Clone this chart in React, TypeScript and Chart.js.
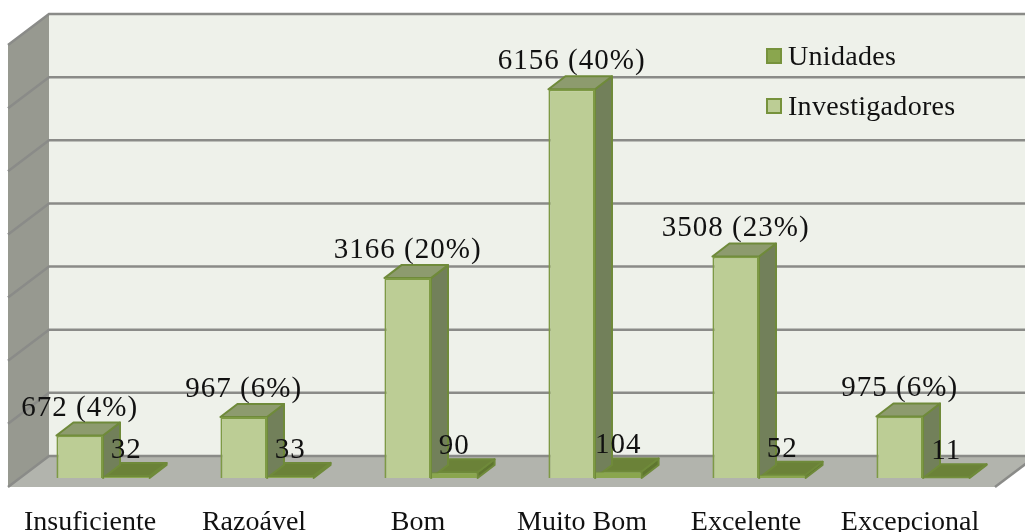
import React, { useEffect, useRef } from "react";
import { Chart, registerables } from "chart.js";

Chart.register(...registerables);

const categories = ["Insuficiente", "Razoável", "Bom", "Muito Bom", "Excelente", "Excepcional"];
const investigadores = [672, 967, 3166, 6156, 3508, 975];
const unidades = [32, 33, 90, 104, 52, 11];
const percentages = ["4%", "6%", "20%", "40%", "23%", "6%"];

const FONT = '"Liberation Serif", serif';
const WALL_DX = 41;
const BACK_DY = 22;
const FRONT_DY = 9;
const BAR_DX = 17;
const BAR_DY = 13;

function poly(ctx: any, pts: number[][], fill: string, stroke?: string, lw = 1.5) {
  ctx.beginPath();
  pts.forEach((p, i) => (i ? ctx.lineTo(p[0], p[1]) : ctx.moveTo(p[0], p[1])));
  ctx.closePath();
  ctx.fillStyle = fill;
  ctx.fill();
  if (stroke) {
    ctx.strokeStyle = stroke;
    ctx.lineWidth = lw;
    ctx.lineJoin = "round";
    ctx.stroke();
  }
}

const scene = {
  id: "scene",
  beforeDatasetsDraw(chart: any) {
    const { ctx, scales } = chart;
    const y = scales.y;
    const bottom = y.getPixelForValue(0);
    const top = y.getPixelForValue(y.max);
    const xBack = 49;
    const xFront = xBack - WALL_DX;
    const xEnd = 1036;
    const backTop = top - BACK_DY;
    const backBottom = bottom - BACK_DY;
    const frontBottom = bottom + FRONT_DY;
    const rise = BACK_DY + FRONT_DY;
    ctx.save();
    poly(ctx, [[xBack, backTop], [xEnd, backTop], [xEnd, backBottom], [xBack, backBottom]], "#EEF1EA");
    poly(ctx, [[xBack, backTop], [xBack, backBottom], [xFront, frontBottom], [xFront, backTop + rise]], "#979990");
    poly(ctx, [[xBack, backBottom], [xEnd, backBottom], [xEnd - WALL_DX, frontBottom], [xFront, frontBottom]], "#B2B4AD");
    ctx.strokeStyle = "#8A8B88";
    ctx.lineWidth = 2.5;
    y.ticks.forEach((t: any) => {
      const py = y.getPixelForValue(t.value) - BACK_DY;
      ctx.beginPath();
      ctx.moveTo(xFront, py + rise);
      ctx.lineTo(xBack, py);
      ctx.lineTo(xEnd, py);
      ctx.stroke();
    });
    ctx.beginPath();
    ctx.moveTo(xEnd, backBottom);
    ctx.lineTo(xEnd - WALL_DX, frontBottom);
    ctx.stroke();

    const faces = [
      { side: "#72805A", top: "#8D9B6E", edge: "#6F8A3A" },
      { side: "#5F7630", top: "#6B8238", edge: "#6F8A3A" },
    ];
    [1, 0].forEach((di) => {
      chart.getDatasetMeta(di).data.forEach((bar: any) => {
        const { x, y: by, base, width } = bar.getProps(["x", "y", "base", "width"], true);
        const l = x - width / 2;
        const r = x + width / 2;
        const f = faces[di];
        poly(ctx, [[r, by], [r + BAR_DX, by - BAR_DY], [r + BAR_DX, base - BAR_DY], [r, base]], f.side, f.edge, 2);
        poly(ctx, [[l, by], [l + BAR_DX, by - BAR_DY], [r + BAR_DX, by - BAR_DY], [r, by]], f.top, f.edge, 2);
      });
    });
    ctx.restore();
  },
  afterDatasetsDraw(chart: any) {
    const { ctx, data } = chart;
    ctx.save();
    ctx.font = `29px ${FONT}`;
    (ctx as any).letterSpacing = "1px";
    ctx.fillStyle = "#111";
    ctx.textAlign = "center";
    ctx.textBaseline = "alphabetic";
    chart.getDatasetMeta(0).data.forEach((bar: any, i: number) => {
      ctx.fillText(`${investigadores[i]} (${percentages[i]})`, bar.x, bar.y - 20);
    });
    chart.getDatasetMeta(1).data.forEach((bar: any, i: number) => {
      ctx.fillText(String(unidades[i]), bar.x, bar.y - 18);
    });
    ctx.textAlign = "left";
    ctx.font = `28px ${FONT}`;
    (ctx as any).letterSpacing = "0.3px";
    [1, 0].forEach((di, row) => {
      const ds = data.datasets[di];
      const top = 48 + row * 50;
      ctx.fillStyle = ds.legendColor;
      ctx.strokeStyle = "#76923C";
      ctx.lineWidth = 2;
      ctx.fillRect(767, top + 1, 14, 14);
      ctx.strokeRect(767, top + 1, 14, 14);
      ctx.fillStyle = "#111";
      ctx.fillText(ds.label, 788, top + 17);
    });
    ctx.restore();
  },
};

export default function App() {
  const ref = useRef<HTMLCanvasElement>(null);
  useEffect(() => {
    const chart = new Chart(ref.current as HTMLCanvasElement, {
      type: "bar",
      data: {
        labels: categories,
        datasets: [
          {
            label: "Investigadores",
            data: investigadores,
            backgroundColor: "#BCCD95",
            borderColor: "#7E9A45",
            borderWidth: 2,
            legendColor: "#BCCD95",
          } as any,
          {
            label: "Unidades",
            data: unidades,
            backgroundColor: "#8AA64E",
            borderColor: "#6F8A3A",
            borderWidth: 1,
            legendColor: "#8AA64E",
          } as any,
        ],
      },
      options: {
        responsive: false,
        animation: false,
        layout: { padding: { left: 21, right: 20, top: 36, bottom: 0 } },
        datasets: { bar: { categoryPercentage: 0.568, barPercentage: 1 } },
        plugins: { legend: { display: false }, tooltip: { enabled: false } },
        scales: {
          x: {
            grid: { display: false },
            border: { display: false },
            afterFit: (s: any) => {
              s.height = 54;
            },
            ticks: {
              autoSkip: false,
              maxRotation: 0,
              labelOffset: -13,
              padding: 20,
              color: "#111",
              font: { family: FONT, size: 28 },
            },
          },
          y: {
            display: false,
            min: 0,
            max: 7000,
            ticks: { stepSize: 1000 },
          },
        },
      },
      plugins: [scene],
    } as any);
    return () => chart.destroy();
  }, []);
  return (
    <div style={{ position: "fixed", left: 0, top: 0, width: 1025, height: 532, background: "#fff", overflow: "hidden" }}>
      <canvas ref={ref} width={1025} height={532} style={{ display: "block" }} />
    </div>
  );
}
